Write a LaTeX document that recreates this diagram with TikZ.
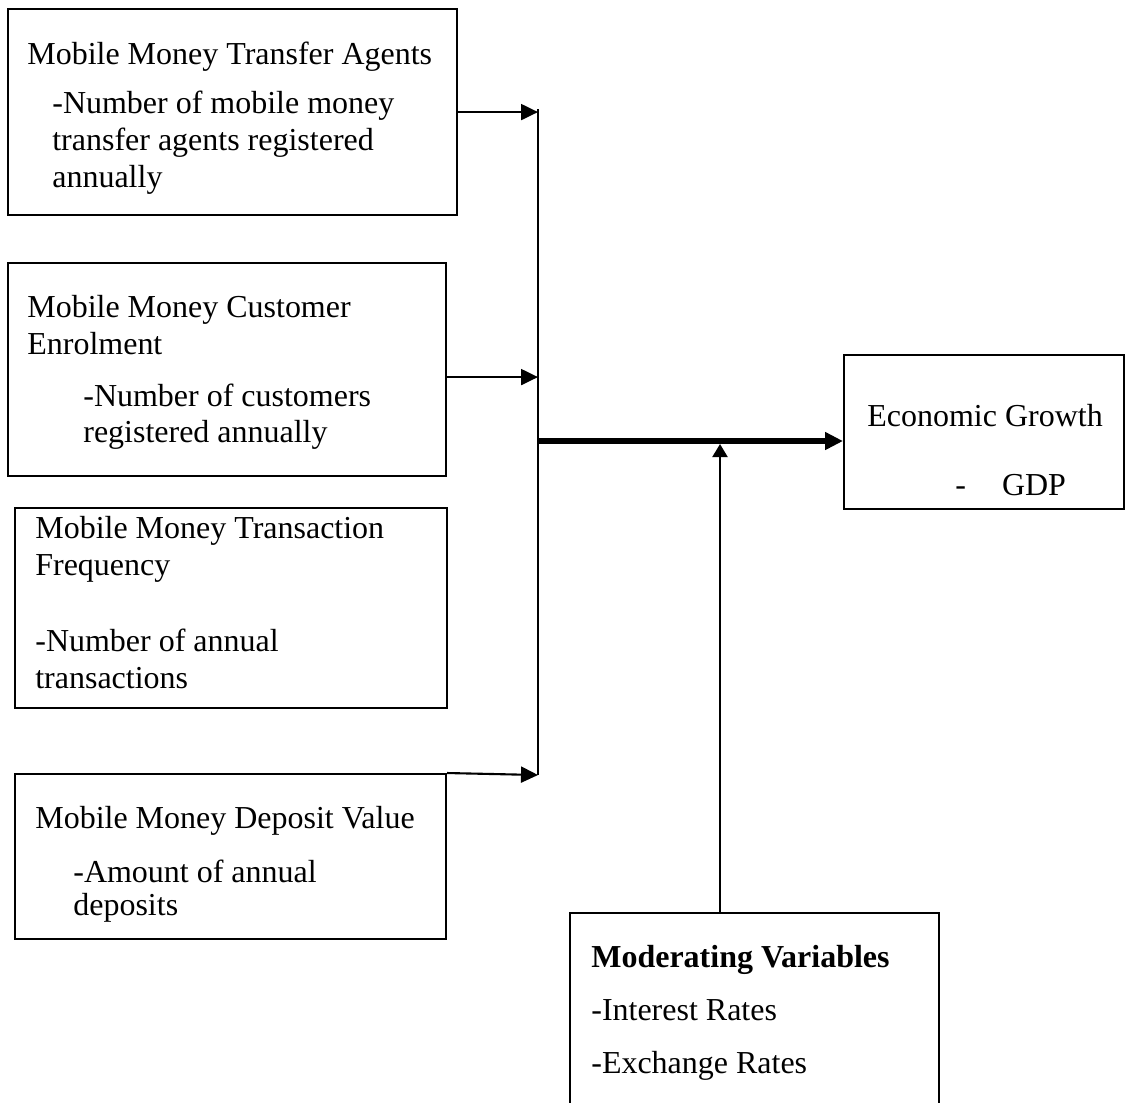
\documentclass[tikz,border=0pt]{standalone}
\usepackage{fontspec}
\setmainfont{Liberation Serif}
\usepackage{tikz}
\usetikzlibrary{arrows.meta}

\begin{document}
\begin{tikzpicture}[scale=1,
  box/.style={draw, line width=1.2pt, inner sep=0pt, anchor=north west},
  txt/.style={anchor=base west, inner sep=0pt, align=left, font=\fontsize{18.2}{18.6}\selectfont},
  link/.style={line width=1.2pt, -{Triangle[length=0.34cm,width=0.32cm]}},
  mainlink/.style={line width=3.2pt, -{Triangle[length=0.36cm,width=0.34cm]}},
  modlink/.style={line width=1.2pt, -{Triangle[length=0.26cm,width=0.3cm]}}]
\useasboundingbox (0,0) rectangle (22.5,-22.04);
\node[box, minimum width=8.98cm, minimum height=4.12cm] (agents) at (0.14,-0.16) {};
\node[box, minimum width=8.76cm, minimum height=4.26cm] (enrol) at (0.14,-5.24) {};
\node[box, minimum width=8.64cm, minimum height=4.00cm] (freq) at (0.28,-10.14) {};
\node[box, minimum width=8.62cm, minimum height=3.30cm] (deposit) at (0.28,-15.46) {};
\node[box, minimum width=5.60cm, minimum height=3.08cm] (growth) at (16.86,-7.08) {};
\node[box, minimum width=7.38cm, minimum height=4.60cm] (moder) at (11.38,-18.24) {};
% base = last line of each block
\node[txt] (agentsT) at (0.54,-1.28) {Mobile Money Transfer Agents};
\node[txt, font=\fontsize{18.2}{21}\selectfont] (agentsS) at (1.04,-3.74) {-Number of mobile money\\transfer agents registered\\annually};
\node[txt, font=\fontsize{18.2}{20.5}\selectfont] (enrolT) at (0.54,-7.08) {Mobile Money Customer\\Enrolment};
\node[txt, font=\fontsize{18.2}{20}\selectfont] (enrolS) at (1.66,-8.84) {-Number of customers\\registered annually};
\node[txt, font=\fontsize{18.2}{21}\selectfont] (freqT) at (0.70,-11.50) {Mobile Money Transaction\\Frequency};
\node[txt, font=\fontsize{18.2}{20.5}\selectfont] (freqS) at (0.70,-13.76) {-Number of annual\\transactions};
\node[txt] (depositT) at (0.70,-16.56) {Mobile Money Deposit Value};
\node[txt] (depositS) at (1.46,-18.30) {-Amount of annual\\deposits};
\node[txt] (growthT) at (17.34,-8.52) {Economic Growth};
\node[txt] (growthS) at (19.10,-9.90) {-\hspace{0.72cm}GDP};
\node[txt, font=\fontsize{18.2}{30}\selectfont] (moderT) at (11.82,-21.46) {\textbf{Moderating Variables}\\-Interest Rates\\-Exchange Rates};
\coordinate (bustop) at (10.76,-2.18);
\coordinate (busbot) at (10.76,-15.50);
\coordinate (junc) at (10.76,-8.82);
\coordinate (modin) at (14.40,-8.88);
\draw[line width=1.2pt] (bustop) -- (busbot);
\draw[link] (agents.east) -- (agents.east -| bustop);
\draw[link] ([yshift=-0.15cm]enrol.east) -- ([yshift=-0.15cm]enrol.east -| bustop);
\draw[link] (deposit.north east) -- (busbot);
\draw[mainlink] (junc) -- (junc -| growth.west);
\draw[modlink] (moder.north -| modin) -- (modin);
\end{tikzpicture}
\end{document}
